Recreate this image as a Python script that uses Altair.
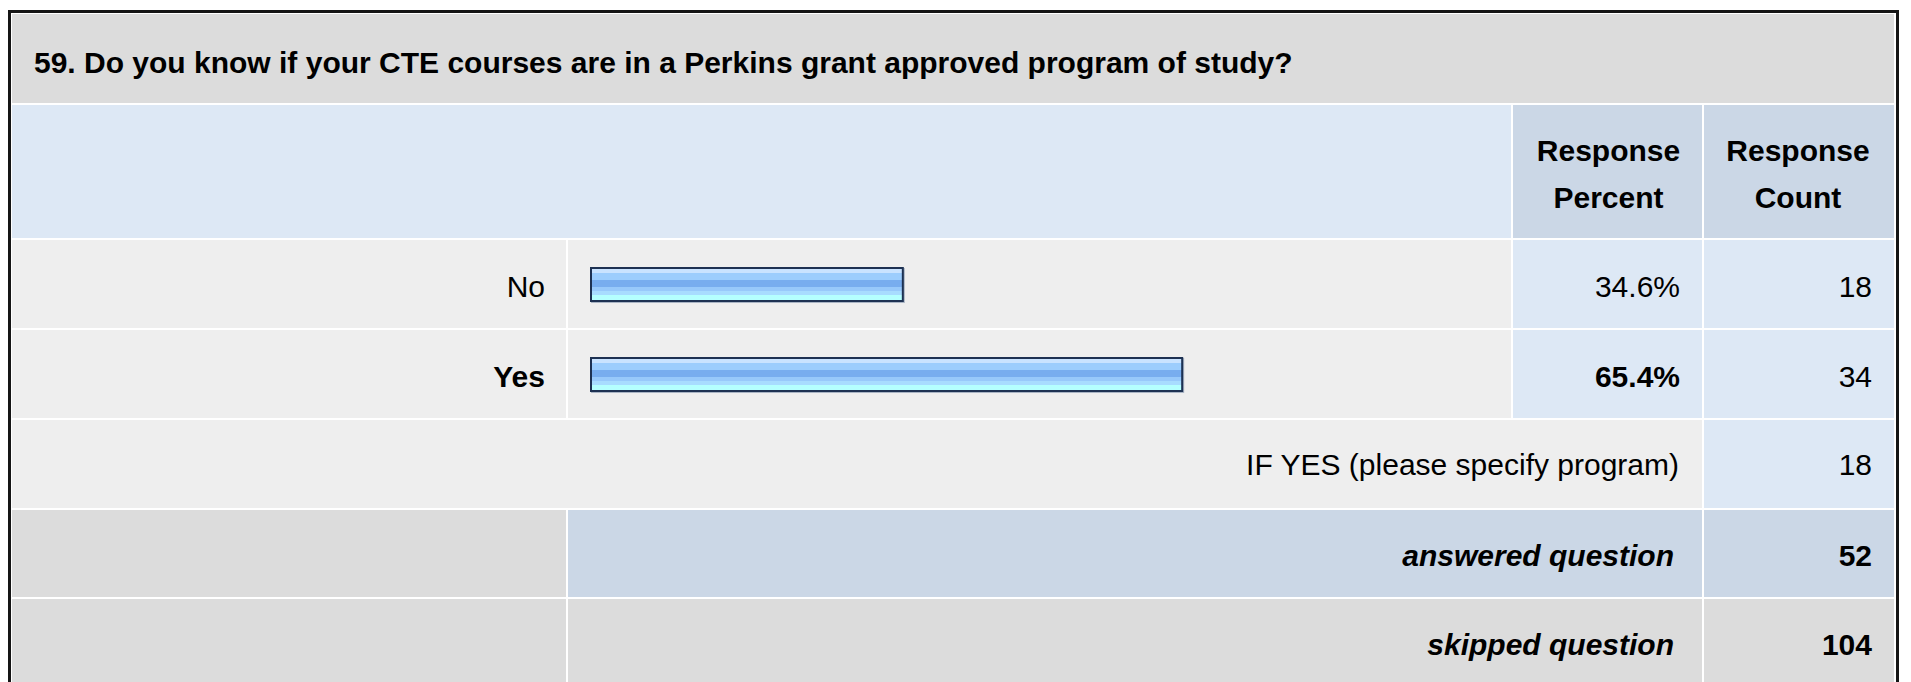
import altair as alt
import pandas as pd

# ---------------- data ----------------
title_text = "59. Do you know if your CTE courses are in a Perkins grant approved program of study?"
header_labels = ["Response Percent", "Response Count"]
answers = ["No", "Yes"]
percents = [34.6, 65.4]
counts = [18, 34]
other_label = "IF YES (please specify program)"
other_count = 18
summary_labels = ["answered question", "skipped question"]
summary_counts = [52, 104]

# ---------------- layout (page pixels) ----------------
OFF = 8
W, H = 1895, 674
FONT = "Liberation Sans"
FS = 30

GRAY = "#dcdcdc"
LGRAY = "#eeeeee"
LBLUE = "#dde8f5"
MBLUE = "#cbd7e6"

C0, C1 = 12, 566      # label column
C2, C3 = 568, 1511    # bar column
C4, C5 = 1513, 1702   # percent column
C6, C7 = 1704, 1894   # count column

R_TITLE = (14, 103)
R_HEAD = (105, 238)
R_ANS = [(240, 328), (330, 418)]
R_OTHER = (420, 508)
R_SUM = [(510, 597), (599, 689)]

BAR_X0 = 590
BAR_PX_PER_100 = 907

xs = alt.Scale(domain=[OFF, OFF + W], range=[0, W], zero=False, nice=False)
ys = alt.Scale(domain=[OFF, OFF + H], range=[0, H], zero=False, nice=False)

# ---------------- cells ----------------
cells = []
def cell(x1, x2, r, fill):
    cells.append({"x1": x1, "x2": x2, "y1": r[0], "y2": r[1], "fill": fill})

cell(C0, C7, R_TITLE, GRAY)
cell(C0, C3, R_HEAD, LBLUE)
cell(C4, C5, R_HEAD, MBLUE)
cell(C6, C7, R_HEAD, MBLUE)
for r in R_ANS:
    cell(C0, C1, r, LGRAY)
    cell(C2, C3, r, LGRAY)
    cell(C4, C5, r, LBLUE)
    cell(C6, C7, r, LBLUE)
cell(C0, C5, R_OTHER, LGRAY)
cell(C6, C7, R_OTHER, LBLUE)
cell(C0, C1, R_SUM[0], GRAY)
cell(C2, C5, R_SUM[0], MBLUE)
cell(C6, C7, R_SUM[0], MBLUE)
cell(C0, C1, R_SUM[1], GRAY)
cell(C2, C5, R_SUM[1], GRAY)
cell(C6, C7, R_SUM[1], GRAY)
cells_df = pd.DataFrame(cells)

cell_layer = alt.Chart(cells_df).mark_rect().encode(
    x=alt.X("x1:Q", scale=xs, axis=None),
    x2="x2:Q",
    y=alt.Y("y1:Q", scale=ys, axis=None),
    y2="y2:Q",
    color=alt.Color("fill:N", scale=None),
)

border_df = pd.DataFrame([{"x1": 9.5, "x2": 1897.5, "y1": 11.5, "y2": 700}])
border_layer = alt.Chart(border_df).mark_rect(
    fillOpacity=0, stroke="#151515", strokeWidth=3
).encode(
    x=alt.X("x1:Q", scale=xs, axis=None),
    x2="x2:Q",
    y=alt.Y("y1:Q", scale=ys, axis=None),
    y2="y2:Q",
)

# ---------------- texts ----------------
def texts_layer(items, align, weight="normal", style="normal"):
    df = pd.DataFrame(items, columns=["x", "y", "t"])
    return alt.Chart(df).mark_text(
        align=align, baseline="alphabetic", font=FONT, fontSize=FS,
        fontWeight=weight, fontStyle=style, color="#000000",
    ).encode(
        x=alt.X("x:Q", scale=xs, axis=None),
        y=alt.Y("y:Q", scale=ys, axis=None),
        text="t:N",
    )

title_items = [(34, 72.5, title_text)]

head_items = []
for lab, cx in zip(header_labels, [(C4 + C5) / 2 + 1, (C6 + C7) / 2 - 1]):
    w1, w2 = lab.split(" ")
    head_items.append((cx, 161, w1))
    head_items.append((cx, 207.5, w2))

normal_items = []
bold_items = []
for i, (a, p, c) in enumerate(zip(answers, percents, counts)):
    base = R_ANS[i][0] + 57
    tgt = bold_items if p == max(percents) else normal_items
    tgt.append((545, base, a))
    tgt.append((1680, base, f"{p:.1f}%"))
    normal_items.append((1872, base, str(c)))
normal_items.append((1679, R_OTHER[0] + 55, other_label))
normal_items.append((1872, R_OTHER[0] + 55, str(other_count)))

italic_items = []
for i, (lab, c) in enumerate(zip(summary_labels, summary_counts)):
    base = R_SUM[i][0] + 56
    italic_items.append((1674, base, lab))
    bold_items.append((1872, base, str(c)))

# ---------------- bars ----------------
bar_df = pd.DataFrame({"answer": answers, "pct": percents, "zero": [0] * len(answers)})
bx = alt.Scale(domain=[0, 100], range=[BAR_X0 - OFF, BAR_X0 - OFF + BAR_PX_PER_100],
               zero=False, nice=False)
by = alt.Scale(domain=answers, range=[R_ANS[0][0] - 0.5 - OFF, R_ANS[1][1] + 1.5 - OFF],
               paddingInner=0, paddingOuter=0)

def bar_layer(**mk):
    return alt.Chart(bar_df).mark_bar(**mk).encode(
        x=alt.X("zero:Q", scale=bx, axis=None),
        x2="pct:Q",
        y=alt.Y("answer:N", scale=by, axis=None),
    )

grad = alt.LinearGradient(
    gradient="linear", x1=0, x2=0, y1=0, y2=1,
    stops=[
        alt.GradientStop(color="#c9e3ff", offset=0.0),
        alt.GradientStop(color="#c9e3ff", offset=0.14),
        alt.GradientStop(color="#9ccdfd", offset=0.14),
        alt.GradientStop(color="#9ccdfd", offset=0.37),
        alt.GradientStop(color="#78adef", offset=0.37),
        alt.GradientStop(color="#78adef", offset=0.57),
        alt.GradientStop(color="#98c9fb", offset=0.57),
        alt.GradientStop(color="#98c9fb", offset=0.70),
        alt.GradientStop(color="#a8dcff", offset=0.70),
        alt.GradientStop(color="#a8dcff", offset=0.84),
        alt.GradientStop(color="#b5ffff", offset=0.84),
        alt.GradientStop(color="#b5ffff", offset=1.0),
    ],
)

shadow = bar_layer(color="#a9b4c4", size=35, xOffset=1, x2Offset=1, yOffset=1)
outline = bar_layer(color="#1d3152", size=35)
inner = bar_layer(color=grad, size=31, xOffset=2, x2Offset=-2)

chart = alt.layer(
    cell_layer,
    border_layer,
    texts_layer(title_items, "left", "bold"),
    texts_layer(head_items, "center", "bold"),
    texts_layer(normal_items, "right"),
    texts_layer(bold_items, "right", "bold"),
    texts_layer(italic_items, "right", "bold", "italic"),
    shadow,
    outline,
    inner,
).resolve_scale(
    x="independent", y="independent"
).properties(
    width=W, height=H, padding=0, autosize="none", background="#ffffff"
).configure_view(strokeWidth=0)

chart.save("out.html", embed_options={"renderer": "svg", "actions": False})
